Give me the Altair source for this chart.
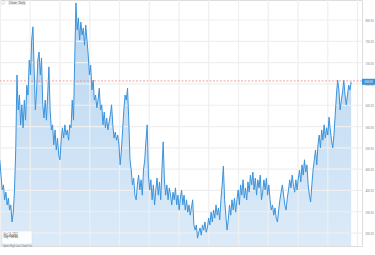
import altair as alt
import pandas as pd

# ---- price series (semi-monthly readings, Dec 2010 .. Oct 2022) ----
seg_2011 = [472, 436, 401, 413, 378, 396, 366, 382, 354, 366, 326, 349, 401,
            495, 671, 589, 624, 554, 601, 547, 612, 565, 647, 624, 706, 671, 753]
seg_2012 = [784, 683, 589, 636, 706, 725, 671, 711, 601, 570, 612, 565, 624, 690,
            589, 542, 554, 507, 542, 495, 523, 483, 472, 518]
seg_2013 = [547, 523, 554, 530, 542, 518, 554, 547, 612, 565, 706, 840, 777, 805,
            753, 795, 765, 781, 741, 788, 753, 718, 671, 694]
seg_2014 = [636, 659, 612, 624, 594, 612, 640, 589, 601, 554, 584, 547, 570, 542,
            561, 577, 601, 554, 523, 537, 518, 530, 507, 460]
seg_2015 = [495, 542, 589, 624, 612, 640, 565, 472, 448, 413, 429, 389, 378, 413,
            436, 401, 425, 389, 448, 472, 518, 554, 436, 401]
seg_2016 = [425, 378, 413, 366, 401, 429, 389, 420, 378, 448, 514, 425, 389, 413,
            378, 406, 389, 366, 396, 378, 406, 366, 389, 354]
seg_2017 = [382, 401, 366, 389, 354, 378, 349, 366, 342, 359, 378, 319, 307, 319,
            288, 302, 312, 295, 319, 307, 326, 302, 312, 335]
seg_2018 = [319, 349, 326, 354, 335, 366, 342, 359, 331, 378, 413, 457, 378, 342,
            307, 331, 366, 342, 378, 354, 382, 349, 378, 401]
seg_2019 = [366, 413, 389, 425, 382, 406, 378, 420, 396, 436, 413, 443, 401, 429,
            389, 425, 406, 436, 378, 396, 425, 401, 429, 389]
seg_2020 = [413, 378, 354, 366, 342, 359, 335, 326, 354, 378, 396, 413, 389, 366,
            354, 382, 401, 425, 406, 436, 413, 396, 425, 401]
seg_2021 = [429, 448, 420, 460, 436, 472, 443, 460, 413, 389, 373, 413, 448, 472,
            495, 460, 507, 530, 500, 542, 518, 554, 523, 547]
seg_2022 = [530, 572, 542, 518, 500, 530, 577, 624, 659, 636, 589, 612, 631, 659,
            624, 601, 624, 647, 636, 655]

prices = (seg_2011 + seg_2012 + seg_2013 + seg_2014 + seg_2015 + seg_2016 +
          seg_2017 + seg_2018 + seg_2019 + seg_2020 + seg_2021 + seg_2022)
dates = pd.date_range("2010-12-23", "2022-10-15", periods=len(prices))
df = pd.DataFrame({"date": dates, "price": prices})

years = list(range(2011, 2024))
year_df = pd.DataFrame({"date": pd.to_datetime([f"{y}-01-01" for y in years])})
price_ticks = [300, 350, 400, 450, 500, 550, 600, 650, 700, 750, 800]
tick_df = pd.DataFrame({"v": price_ticks})
prev_close = 657.0
prev_df = pd.DataFrame({"v": [prev_close]})
last_df = df.tail(1)

title_text = "Close · Daily"
info_lines = ["Oct 14, 2022", "Close (daily)", "Chg.     +38.8%"]
info_footer = "Open   High   Low   Close   Vol."

FONT = "Roboto"
LINE = "#3b93dc"

xs = alt.Scale(domain=[alt.DateTime(year=2010, month=12, date=26),
                       alt.DateTime(year=2023, month=2, date=25)])
ys = alt.Scale(domain=[269.6, 847], zero=False, nice=False)

base = alt.Chart(df)

area = base.mark_area(
    clip=True,
    color=alt.Gradient(
        gradient="linear",
        stops=[alt.GradientStop(color="#b7d5f0", offset=0),
               alt.GradientStop(color="#eef5fc", offset=1)],
        x1=1, x2=1, y1=0, y2=1,
    ),
).encode(
    x=alt.X("date:T", scale=xs, title=None,
            axis=alt.Axis(values=[alt.DateTime(year=y, month=1, date=1) for y in years],
                          format="%Y", labelAlign="left", labelFontSize=2.8,
                          labelColor="#888", labelPadding=2, grid=False, ticks=False,
                          domainColor="#e2e2e2", labelFont=FONT)),
    y=alt.Y("price:Q", scale=ys, title=None,
            axis=alt.Axis(orient="right", values=price_ticks, format=".2f",
                          labelFontSize=2.7, labelColor="#888", labelPadding=3,
                          grid=False, ticks=False, domain=False, labelFont=FONT)),
)

vgrid = alt.Chart(year_df).mark_rule(color="#efefef", strokeWidth=1.2).encode(
    x=alt.X("date:T", scale=xs, axis=None))
hgrid = alt.Chart(tick_df).mark_rule(color="#efefef", strokeWidth=1.2).encode(
    y=alt.Y("v:Q", scale=ys, axis=None))

line = base.mark_line(color=LINE, strokeWidth=1, clip=True).encode(
    x=alt.X("date:T", scale=xs, axis=None),
    y=alt.Y("price:Q", scale=ys, axis=None),
)

prev_rule = alt.Chart(prev_df).mark_rule(
    color="#ef8a8a", strokeDash=[2, 1.5], strokeWidth=0.8).encode(
    y=alt.Y("v:Q", scale=ys, axis=None))

last_box = alt.Chart(last_df).mark_tick(
    orient="horizontal", thickness=6, size=13, color="#3a8fd9", opacity=1).encode(
    x=alt.value(368.5), y=alt.Y("price:Q", scale=ys, axis=None))
last_txt = alt.Chart(last_df).mark_text(
    fontSize=2.7, color="white", align="center", baseline="middle", font=FONT).encode(
    x=alt.value(368.5), y=alt.Y("price:Q", scale=ys, axis=None),
    text=alt.Text("price:Q", format=".2f"))

one = pd.DataFrame({"k": [0]})
icon = alt.Chart(one).mark_text(text="ⓘ", fontSize=4, color="#999",
                                align="left", baseline="middle", font=FONT).encode(
    x=alt.value(1), y=alt.value(3))
title_box = alt.Chart(one).mark_rect(color="#ececec", cornerRadius=1).encode(
    x=alt.value(8), x2=alt.value(26), y=alt.value(1), y2=alt.value(5))
title_txt = alt.Chart(one).mark_text(text=title_text, fontSize=3, color="#666",
                                     align="left", baseline="middle", font=FONT).encode(
    x=alt.value(9), y=alt.value(3))

info_box = alt.Chart(one).mark_rect(color="white", stroke="#dddddd", strokeWidth=0.5,
                                    opacity=0.95).encode(
    x=alt.value(2), x2=alt.value(32), y=alt.value(231), y2=alt.value(244))
info_df = pd.DataFrame({"t": info_lines, "row": [0, 1, 2]})
info_txt = alt.Chart(info_df).mark_text(fontSize=2.6, color="#666", align="left",
                                        baseline="middle", font=FONT).encode(
    x=alt.value(3.5),
    y=alt.Y("row:O", scale=alt.Scale(range=[233.5, 238.5]), axis=None),
    text="t:N")
footer_txt = alt.Chart(one).mark_text(text=info_footer, fontSize=2.6, color="#888",
                                      align="left", baseline="middle", font=FONT).encode(
    x=alt.value(3), y=alt.value(246))

chart = alt.layer(
    area, vgrid, hgrid, line, prev_rule, last_box, last_txt,
    icon, title_box, title_txt, info_box, info_txt, footer_txt,
).resolve_scale(y="shared").properties(
    width=362, height=246,
    autosize=alt.AutoSizeParams(type="none"),
    padding={"left": 0, "top": 0, "right": 13, "bottom": 9},
    background="white",
).configure_view(strokeWidth=0).configure(font=FONT)

chart.save("out.html", embed_options={"renderer": "svg", "actions": False})
